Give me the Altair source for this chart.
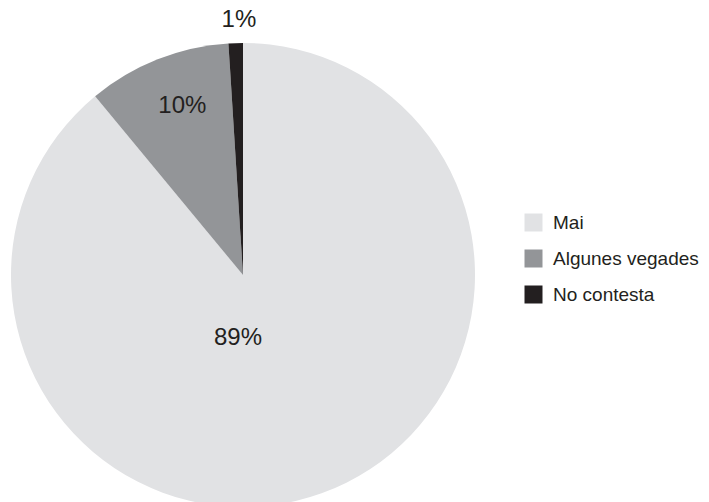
import altair as alt
import pandas as pd

cats = ["Mai", "Algunes vegades", "No contesta"]
vals = [89, 10, 1]
labels = ["89%", "10%", "1%"]
colors = ["#e1e2e4", "#939598", "#231f20"]

df = pd.DataFrame({"cat": cats, "value": vals, "label": labels, "idx": list(range(len(cats)))})

CX, CY, R = 235, 267, 232
FONT = "Liberation Sans"

base = alt.Chart(df).encode(
    theta=alt.Theta("value:Q", stack=True),
    order=alt.Order("idx:Q"),
)

arc = base.mark_arc(radius=R, strokeWidth=0).encode(
    x=alt.value(CX),
    y=alt.value(CY),
    color=alt.Color(
        "cat:N",
        scale=alt.Scale(domain=cats, range=colors),
        sort=cats,
        legend=alt.Legend(
            title=None,
            orient="none",
            legendX=516,
            legendY=205,
            symbolType="square",
            symbolSize=324,
            symbolStrokeWidth=0,
            labelFontSize=19,
            labelFont=FONT,
            labelColor="#231f20",
            labelOffset=10,
            rowPadding=16,
            padding=0,
        ),
    ),
)

label_specs = [("Mai", 62, -26, 5), ("Algunes vegades", 181, 6, -1), ("No contesta", 257, 4, 2)]
layers = [arc]
for cat, r, dx, dy in label_specs:
    layers.append(
        base.transform_calculate(t=f"datum.cat === '{cat}' ? datum.label : ''")
        .mark_text(radius=r, dx=dx, dy=dy, fontSize=24, font=FONT, color="#231f20", baseline="middle", align="center")
        .encode(x=alt.value(CX), y=alt.value(CY), text="t:N")
    )

chart = alt.layer(*layers).properties(
    width=693, height=494, autosize=alt.AutoSizeParams(type="none"), padding=0
).configure_view(stroke=None)

chart.save("out.html", embed_options={"renderer": "svg", "actions": False})
